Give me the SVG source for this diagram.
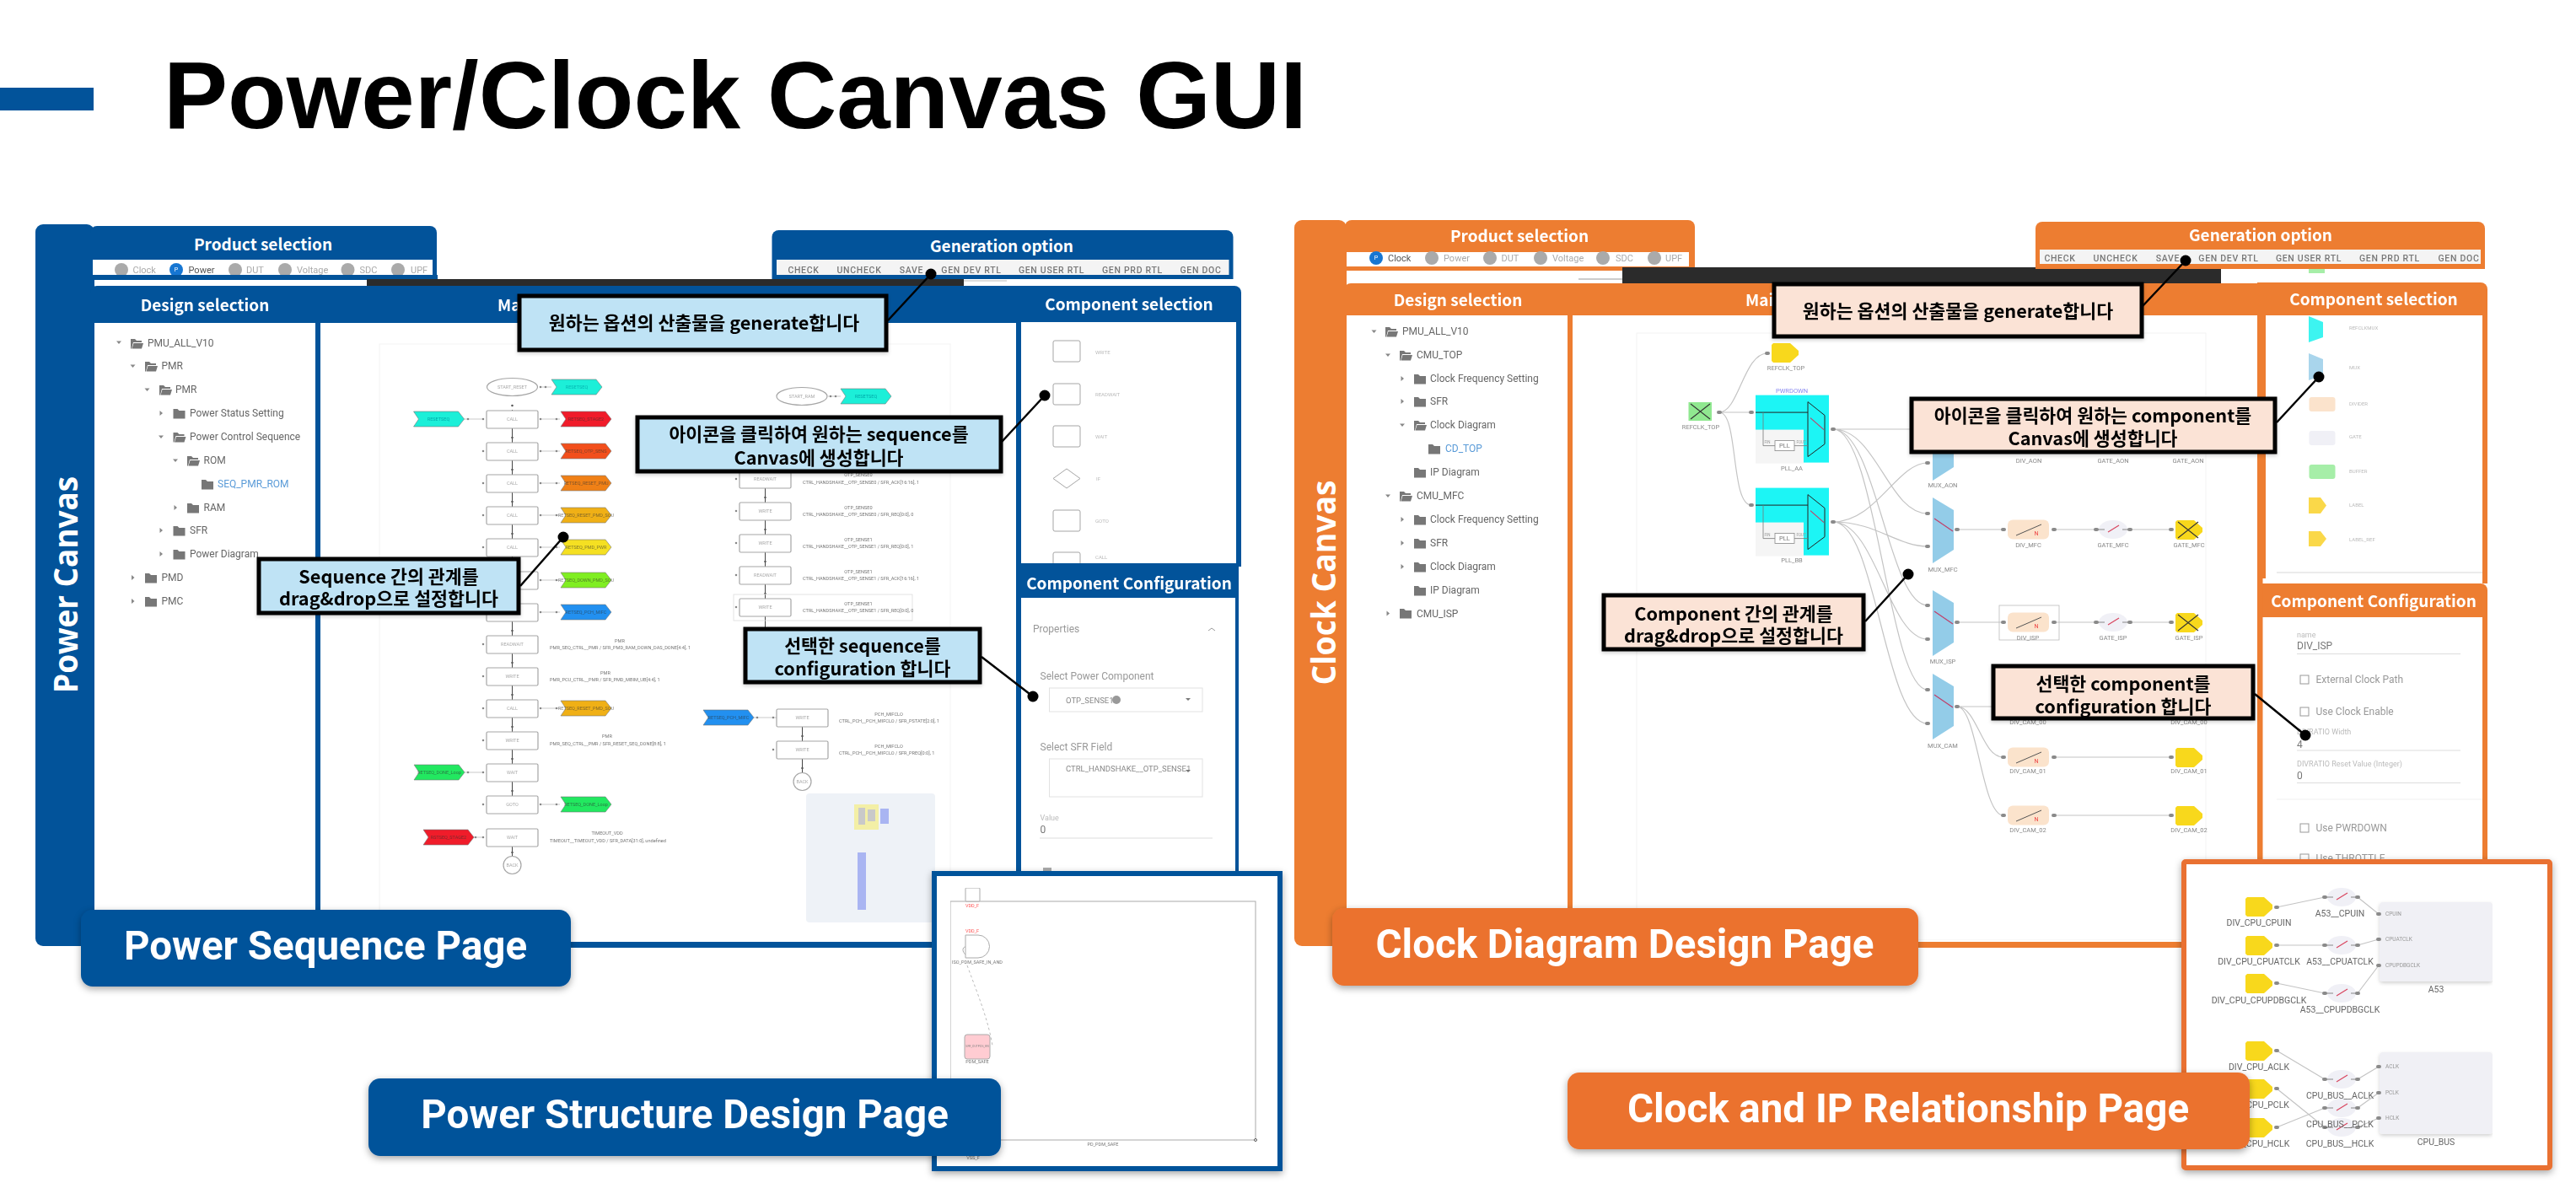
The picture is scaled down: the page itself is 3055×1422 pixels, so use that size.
<svg xmlns="http://www.w3.org/2000/svg" xmlns:xlink="http://www.w3.org/1999/xlink" width="3055" height="1422" viewBox="0 0 3055 1422">
<style>
text{font-family:"Roboto","Noto Sans CJK KR",sans-serif;dominant-baseline:central}
.m{text-anchor:middle}
.title{font-family:"Liberation Sans",Arial,sans-serif;font-weight:700;font-size:114px;fill:#000;dominant-baseline:auto}
.hd{font-family:"Noto Sans CJK KR","Noto Sans",sans-serif;font-weight:700;font-size:19px;fill:#fff;text-anchor:middle}
.hdl{font-family:"Noto Sans CJK KR","Noto Sans",sans-serif;font-weight:700;font-size:19px;fill:#fff}
.page{font-family:"Roboto",sans-serif;font-weight:700;font-size:47.500px;fill:#fff;text-anchor:middle;dominant-baseline:auto}
.vert{font-family:"Open Sans",sans-serif;font-weight:700;font-size:40px;fill:#fff;text-anchor:middle;dominant-baseline:auto}
.co{font-family:"Noto Sans CJK KR",sans-serif;font-weight:700;font-size:21.700px;fill:#000;text-anchor:middle}
.cb{fill:#BFE3F5;stroke:#000;stroke-width:5}
.cp{fill:#FBE3D6;stroke:#000;stroke-width:5}
.ld{stroke:#000;stroke-width:2.5;fill:none}
.tb{font-size:10.5px;font-weight:500;fill:#777;letter-spacing:.7px;text-anchor:middle}
.tab{font-size:11px;fill:#aaa}
.tabon{font-size:11px;fill:#555}
.tl{font-size:12px;fill:#666}
.tla{font-size:12px;fill:#5a9bd8}
.sm{font-size:5.5px;fill:#aaa;text-anchor:middle}
.ft{font-size:5.5px;fill:#333;fill-opacity:.6;text-anchor:middle}
.ln{font-size:5.6px;fill:#777}
.lnm{font-size:5.6px;fill:#777;text-anchor:middle}
.ic{font-size:6px;fill:#bbb}
.cfg{font-size:12px;fill:#999}
.cfs{font-size:9px;fill:#bbb}
.bx{fill:#fff;stroke:#a5a5a5;stroke-width:1.2}
.fl{stroke:#777;stroke-width:.6}
.v{stroke:#444;stroke-width:1;fill:none}
.h{stroke:#bbb;stroke-width:.8;fill:none}
.pd{stroke:#555;stroke-width:2.6;stroke-linecap:round;fill:none}
.pd2{stroke:#888;stroke-width:2.6;stroke-linecap:round;fill:none}
.wire{stroke:#c4c4c4;stroke-width:1.2;fill:none}
.pt{stroke:#8a8a8a;stroke-width:4;stroke-linecap:round;fill:none}
.cl{font-size:7.5px;fill:#888;text-anchor:middle}
.ipl{font-size:10.5px;fill:#666;text-anchor:middle}
.ips{font-size:6.5px;fill:#999}
.fa{fill:#777}
.ar{fill:#888}
</style>
<defs>
<filter id="sh" x="-10%" y="-20%" width="120%" height="150%"><feDropShadow dx="0" dy="3" stdDeviation="4" flood-color="#000" flood-opacity=".35"/></filter>
<filter id="sh2" x="-10%" y="-30%" width="120%" height="170%"><feDropShadow dx="0" dy="2" stdDeviation="2" flood-color="#000" flood-opacity=".18"/></filter>
<filter id="bl" x="0" y="0" width="100%" height="100%"><feGaussianBlur stdDeviation=".45"/></filter>
<path id="fc" d="M0 0h5l2 2h7v9.500H0z"/>
<path id="fo" d="M0 0h5l2 2h6v2H3L1 11.500H0zM3.500 5H15l-2 6.500H1.500z"/>
<path id="ad" d="M-3-1.500H3L0 2z"/>
<path id="ar" d="M-1.500-3L2 0-1.500 3z"/>
<path id="fl" class="fl" d="M0 0H53L60 9 53 18H0L6 9Z"/>
<rect id="sb" class="bx" width="61" height="21" rx="1.500"/>
<rect id="ib" x="0" y="0" width="32" height="25" rx="2" fill="#fff" stroke="#a5a5a5" stroke-width="1"/>
<path id="lb" d="M2 0H22L32 9V14L22 23H2L0 21V2Z" fill="#F8D81E"/>
<path id="xx" d="M3 2L27 21M27 2L3 21" stroke="#333" stroke-width="1.100" fill="none"/>
<g id="dv"><rect x="0" y="-11.500" width="49" height="23" rx="6" fill="#FBE3CC"/><path d="M10 7L40-6" stroke="#555" stroke-width="1"/><text x="34" y="5" font-size="7" fill="#E44" class="m">N</text></g>
<g id="gt"><ellipse cx="20" cy="0" rx="17" ry="11" fill="#F0F0F6"/><path d="M0 0H10M31 0H40" stroke="#888" stroke-width="1"/><path d="M14 3L27-5" stroke="#D9455F" stroke-width="1.300"/></g>
<g id="mx"><path d="M0 0L25 15V62L0 78Z" fill="#93CCE8"/><path d="M2 25L24 40" stroke="#C0406A" stroke-width="1.300"/></g>
<g id="pll"><rect x="0" y="0" width="87" height="80" fill="#1FF5F5"/><rect x="0" y="41" width="57" height="40" fill="#F5F5F5"/><path d="M62 8L82 24V58L62 73Z" fill="none" stroke="#222" stroke-width="1"/><path d="M65 27L81 41" stroke="#C0406A" stroke-width="1.200"/><path d="M0 20.500H62" stroke="#222" stroke-width="1"/><path d="M9 20.500V60H23M46 60H62" stroke="#777" stroke-width=".8" fill="none"/><rect x="23" y="54" width="23" height="12" fill="#fff" stroke="#888" stroke-width=".8"/><text x="34.500" y="60" font-size="7.500" fill="#777" class="m">PLL</text><text x="14" y="56" font-size="4.500" fill="#999" class="m">FIN</text><text x="54" y="56" font-size="4.500" fill="#999" class="m">FOUT</text></g>
</defs>
<rect width="3055" height="1422" fill="#fff"/>
<g id="title"><rect x="0" y="104" width="111" height="27" fill="#02539A"/><text x="194" y="152" class="title">Power/Clock Canvas GUI</text></g>

<g id="power-shots" filter="url(#bl)">
<rect x="450" y="408" width="677" height="710" fill="#fff" stroke="#f3f3f3"/>
<g id="power-tree">
<use xlink:href="#ad" x="141" y="406" class="ar"/><use xlink:href="#fo" x="155" y="402" class="fa"/><text x="175" y="407" class="tl">PMU_ALL_V10</text>
<use xlink:href="#ad" x="157.500" y="434" class="ar"/><use xlink:href="#fo" x="172" y="429" class="fa"/><text x="191.500" y="434" class="tl">PMR</text>
<use xlink:href="#ad" x="174.500" y="462" class="ar"/><use xlink:href="#fo" x="189" y="457" class="fa"/><text x="208" y="462" class="tl">PMR</text>
<use xlink:href="#ar" x="191" y="490" class="ar"/><use xlink:href="#fc" x="205.500" y="485" class="fa"/><text x="225" y="490" class="tl">Power Status Setting</text>
<use xlink:href="#ad" x="191" y="518" class="ar"/><use xlink:href="#fo" x="205.500" y="513" class="fa"/><text x="225" y="518" class="tl">Power Control Sequence</text>
<use xlink:href="#ad" x="208" y="546" class="ar"/><use xlink:href="#fo" x="222" y="541" class="fa"/><text x="241.500" y="546" class="tl">ROM</text>
<use xlink:href="#fc" x="239" y="569" class="fa"/><text x="258" y="574" class="tla">SEQ_PMR_ROM</text>
<use xlink:href="#ar" x="208" y="602" class="ar"/><use xlink:href="#fc" x="222" y="597" class="fa"/><text x="241.500" y="602" class="tl">RAM</text>
<use xlink:href="#ar" x="191" y="629" class="ar"/><use xlink:href="#fc" x="205.500" y="624" class="fa"/><text x="225" y="629" class="tl">SFR</text>
<use xlink:href="#ar" x="191" y="657" class="ar"/><use xlink:href="#fc" x="205.500" y="652" class="fa"/><text x="225" y="657" class="tl">Power Diagram</text>
<use xlink:href="#ar" x="157.500" y="685" class="ar"/><use xlink:href="#fc" x="172" y="680" class="fa"/><text x="191.500" y="685" class="tl">PMD</text>
<use xlink:href="#ar" x="157.500" y="713" class="ar"/><use xlink:href="#fc" x="172" y="708" class="fa"/><text x="191.500" y="713" class="tl">PMC</text>
</g>
<g id="power-connectors">
<path class="v" d="M607.500 486V955M607.500 993V1016M907.500 558V744M951.500 851V917"/>
<path class="h" d="M641 459H654M550 497H573M641 497H664M641 535H664M641 573H664M641 611H664M641 649H664M641 688H664M641 726H664M641 840H664M641 954H664M551 916H573M561 993H573M982 470H997M894 851H921"/>
<path class="pd" d="M607.500 481h0M607.500 519h0M607.500 557h0M607.500 595h0M607.500 633h0M607.500 671h0M607.500 710h0M607.500 748h0M607.500 786h0M607.500 824h0M607.500 862h0M607.500 900h0M607.500 938h0M607.500 1011h0M907.500 590h0M907.500 628h0M907.500 666h0M907.500 704h0M951.500 873h0M951.500 911h0"/>
<path class="pd2" d="M641 459h0M647 459h0M555 497h0M573 497h0M641 497h0M660 497h0M573 535h0M641 535h0M660 535h0M573 573h0M641 573h0M660 573h0M573 611h0M641 611h0M660 611h0M573 649h0M641 649h0M660 649h0M573 688h0M641 688h0M660 688h0M573 726h0M641 726h0M660 726h0M573 764h0M573 802h0M573 840h0M641 840h0M660 840h0M573 878h0M555 916h0M573 916h0M573 954h0M641 954h0M660 954h0M564 993h0M573 993h0M873 568h0M873 606h0M873 644h0M873 682h0M873 720h0M898 851h0M917 851h0M917 889h0M985 470h0M991 470h0"/>
</g>
<g id="seq-col1">
<ellipse cx="607.500" cy="459" rx="30" ry="10.500" class="bx"/><text x="607.500" y="459" class="sm">START_RESET</text>
<use xlink:href="#fl" x="654" y="450" fill="#1CEFD8"/><text x="684" y="459" class="sm" fill-opacity=".8" style="fill:#0aa">RESETSEQ</text>
<use xlink:href="#sb" x="577" y="487"/><text x="607.500" y="497" class="sm">CALL</text>
<use xlink:href="#sb" x="577" y="525"/><text x="607.500" y="535" class="sm">CALL</text>
<use xlink:href="#sb" x="577" y="563"/><text x="607.500" y="573" class="sm">CALL</text>
<use xlink:href="#sb" x="577" y="601"/><text x="607.500" y="611" class="sm">CALL</text>
<use xlink:href="#sb" x="577" y="639"/><text x="607.500" y="649" class="sm">CALL</text>
<use xlink:href="#sb" x="577" y="678"/><text x="607.500" y="688" class="sm">CALL</text>
<use xlink:href="#sb" x="577" y="716"/><text x="607.500" y="726" class="sm">CALL</text>
<use xlink:href="#sb" x="577" y="754"/><text x="607.500" y="764" class="sm">READWAIT</text>
<use xlink:href="#sb" x="577" y="792"/><text x="607.500" y="802" class="sm">WRITE</text>
<use xlink:href="#sb" x="577" y="830"/><text x="607.500" y="840" class="sm">CALL</text>
<use xlink:href="#sb" x="577" y="868"/><text x="607.500" y="878" class="sm">WRITE</text>
<use xlink:href="#sb" x="577" y="906"/><text x="607.500" y="916" class="sm">WAIT</text>
<use xlink:href="#sb" x="577" y="944"/><text x="607.500" y="954" class="sm">GOTO</text>
<use xlink:href="#sb" x="577" y="983"/><text x="607.500" y="993" class="sm">WAIT</text>
<circle cx="607.500" cy="1026" r="10.500" class="bx"/><text x="607.500" y="1026" class="sm">BACK</text>
<use xlink:href="#fl" x="490.500" y="488" fill="#1CEFD8"/><text x="520" y="497" class="sm" style="fill:#0aa">RESETSEQ</text>
<use xlink:href="#fl" x="665" y="488" fill="#F01C2A"/><text x="695" y="497" class="ft">RETSEQ_STAGE2</text>
<use xlink:href="#fl" x="665" y="526" fill="#F2501C"/><text x="695" y="535" class="ft">RETSEQ_OTP_SENS</text>
<use xlink:href="#fl" x="665" y="564" fill="#F08018"/><text x="695" y="573" class="ft">RETSEQ_RESET_PMU</text>
<use xlink:href="#fl" x="665" y="602" fill="#F0B018"/><text x="695" y="611" class="ft">RETSEQ_RESET_PMD_SOU</text>
<use xlink:href="#fl" x="665" y="640" fill="#F5E020"/><text x="695" y="649" class="ft">RETSEQ_PMD_PWR</text>
<use xlink:href="#fl" x="665" y="679" fill="#80EE20"/><text x="695" y="688" class="ft">RETSEQ_DOWN_PMD_SOU</text>
<use xlink:href="#fl" x="665" y="717" fill="#2090F0"/><text x="695" y="726" class="ft">RETSEQ_PCH_MIFC</text>
<use xlink:href="#fl" x="665" y="831" fill="#F0B018"/><text x="695" y="840" class="ft">RETSEQ_RESET_PMD_SOU</text>
<use xlink:href="#fl" x="491" y="907" fill="#20E860"/><text x="521" y="916" class="ft">RETSEQ_DONE_Loop</text>
<use xlink:href="#fl" x="665" y="945" fill="#20E860"/><text x="695" y="954" class="ft">RETSEQ_DONE_Loop</text>
<use xlink:href="#fl" x="502" y="984" fill="#F01C2A"/><text x="532" y="993" class="ft">RSTSEQ_STAGE2</text>
<text x="735" y="760" class="lnm">PMR</text><text x="652" y="767.500" class="ln">PMR_SEQ_CTRL__PMR / SFR_PMD_RAM_DOWN_DAS_DONE[4:4], 1</text>
<text x="718" y="798" class="lnm">PMR</text><text x="652" y="806" class="ln">PMR_PCU_CTRL__PMR / SFR_PMD_MBIM_UB[4:4], 1</text>
<text x="720" y="873" class="lnm">PMR</text><text x="652" y="882" class="ln">PMR_SEQ_CTRL__PMR / SFR_RESET_SEQ_DONE[8:8], 1</text>
<text x="720" y="988" class="lnm">TIMEOUT_VDD</text><text x="652" y="997" class="ln">TIMEOUT__TIMEOUT_VDD / SFR_DATA[31:0], undefined</text>
</g>
<g id="seq-col2">
<ellipse cx="951" cy="470" rx="30" ry="10.500" class="bx"/><text x="951" y="470" class="sm">START_RAM</text>
<use xlink:href="#fl" x="997" y="461" fill="#1CEFD8"/><text x="1027" y="470" class="sm" style="fill:#0aa">RESETSEQ</text>
<use xlink:href="#sb" x="877" y="558"/><text x="907.500" y="568" class="sm">READWAIT</text>
<use xlink:href="#sb" x="877" y="596"/><text x="907.500" y="606" class="sm">WRITE</text>
<use xlink:href="#sb" x="877" y="634"/><text x="907.500" y="644" class="sm">WRITE</text>
<use xlink:href="#sb" x="877" y="672"/><text x="907.500" y="682" class="sm">READWAIT</text>
<rect x="870" y="705" width="212" height="31" fill="none" stroke="#ddd" stroke-width=".8"/>
<use xlink:href="#sb" x="877" y="710"/><text x="907.500" y="720" class="sm">WRITE</text>
<text x="1018" y="563" class="lnm">OTP_SENSE0</text><text x="952" y="572" class="ln">CTRL_HANDSHAKE__OTP_SENSE0 / SFR_ACK[16:16], 1</text>
<text x="1018" y="602" class="lnm">OTP_SENSE0</text><text x="952" y="610" class="ln">CTRL_HANDSHAKE__OTP_SENSE0 / SFR_REQ[0:0], 0</text>
<text x="1018" y="640" class="lnm">OTP_SENSE1</text><text x="952" y="648" class="ln">CTRL_HANDSHAKE__OTP_SENSE1 / SFR_REQ[0:0], 1</text>
<text x="1018" y="678" class="lnm">OTP_SENSE1</text><text x="952" y="686" class="ln">CTRL_HANDSHAKE__OTP_SENSE1 / SFR_ACK[16:16], 1</text>
<text x="1018" y="716" class="lnm">OTP_SENSE1</text><text x="952" y="724" class="ln">CTRL_HANDSHAKE__OTP_SENSE1 / SFR_REQ[0:0], 0</text>
<use xlink:href="#fl" x="834" y="842" fill="#2090F0"/><text x="864" y="851" class="ft">RETSEQ_PCH_MIFC</text>
<use xlink:href="#sb" x="921" y="841"/><text x="951.500" y="851" class="sm">WRITE</text>
<use xlink:href="#sb" x="921" y="879"/><text x="951.500" y="889" class="sm">WRITE</text>
<circle cx="951.500" cy="927" r="10.500" class="bx"/><text x="951.500" y="927" class="sm">BACK</text>
<text x="1054" y="847" class="lnm">PCH_MIFCLO</text><text x="995" y="855" class="ln">CTRL_PCH__PCH_MIFCLO / SFR_PSTATE[2:0], 1</text>
<text x="1054" y="885" class="lnm">PCH_MIFCLO</text><text x="995" y="893" class="ln">CTRL_PCH__PCH_MIFCLO / SFR_PREQ[0:0], 1</text>
</g>
<g id="power-minimap">
<rect x="956" y="941" width="153" height="153" rx="4" fill="#EEF2F7"/>
<rect x="1013" y="954" width="29" height="30" fill="#F3EFA6"/><rect x="1018" y="958" width="8" height="20" fill="#C9C9C9"/><rect x="1029" y="960" width="9" height="14" fill="#C9C9C9"/>
<rect x="1044" y="959" width="10" height="18" fill="#A9B5F2"/><rect x="1017" y="1011" width="10" height="68" fill="#A9B5F2"/>
</g>
<g id="power-selection">
<use xlink:href="#ib" x="1249" y="404"/><text x="1299" y="417" class="ic">WRITE</text>
<use xlink:href="#ib" x="1249" y="455"/><text x="1299" y="467" class="ic">READWAIT</text>
<use xlink:href="#ib" x="1249" y="505"/><text x="1299" y="517" class="ic">WAIT</text>
<path d="M1249 567.500L1265 556 1281 567.500 1265 579Z" fill="#fff" stroke="#a5a5a5"/><text x="1300" y="567" class="ic">IF</text>
<use xlink:href="#ib" x="1249" y="605"/><text x="1299" y="617" class="ic">GOTO</text>
<use xlink:href="#ib" x="1249" y="655"/><text x="1299" y="660" class="ic">CALL</text>
</g>
</g>

<g id="power-frames">
<rect x="42" y="266" width="70" height="856" rx="9" fill="#02539A"/>
<text transform="translate(92,693.500) rotate(-90)" class="vert" textLength="257" lengthAdjust="spacingAndGlyphs">Power Canvas</text>
<g id="power-product">
<path d="M107 332V276a8 8 0 0 1 8-8H510a8 8 0 0 1 8 8V332Z" fill="#02539A"/><rect x="110" y="308" width="403" height="18" fill="#fff"/>
<text x="312" y="288" class="hd">Product selection</text>
<g filter="url(#bl)">
<circle cx="144" cy="320" r="8" fill="#aaa"/><text x="157.500" y="320" class="tab">Clock</text>
<circle cx="209" cy="320" r="8" fill="#1976D2"/><text x="209" y="320" class="m" font-size="7" fill="#fff">P</text><text x="223.500" y="320" class="tabon">Power</text>
<circle cx="279" cy="320" r="8" fill="#aaa"/><text x="292" y="320" class="tab">DUT</text>
<circle cx="338" cy="320" r="8" fill="#aaa"/><text x="352" y="320" class="tab">Voltage</text>
<circle cx="412.500" cy="320" r="8" fill="#aaa"/><text x="426.500" y="320" class="tab">SDC</text>
<circle cx="472" cy="320" r="8" fill="#aaa"/><text x="487" y="320" class="tab">UPF</text>
</g>
<rect x="107" y="326" width="412" height="6" fill="#02539A"/>
</g>
<rect x="435" y="331" width="708" height="8" fill="#2b2b2b"/><rect x="1143" y="332" width="51" height="2" fill="#ddd"/>
<g id="power-generation">
<path d="M915.500 331V281a8 8 0 0 1 8-8H1454.500a8 8 0 0 1 8 8V331Z" fill="#02539A"/><rect x="921" y="308" width="536.500" height="18" fill="#f4f4f4"/>
<text x="1188" y="290" class="hd">Generation option</text>
<g filter="url(#bl)"><text x="953" y="320" class="tb">CHECK</text><text x="1019" y="320" class="tb">UNCHECK</text><text x="1081" y="320" class="tb">SAVE</text><text x="1152" y="320" class="tb">GEN DEV RTL</text><text x="1247" y="320" class="tb">GEN USER RTL</text><text x="1343" y="320" class="tb">GEN PRD RTL</text><text x="1424" y="320" class="tb">GEN DOC</text></g>
</g>
<g id="power-design"><path d="M107 383V347a8 8 0 0 1 8-8H1205V383Z" fill="#02539A"/><rect x="374" y="383" width="6" height="700" fill="#02539A"/><text x="243" y="360" class="hd">Design selection</text><text x="590" y="360" class="hdl">Ma</text></g>
<rect x="377" y="1117" width="834" height="7" fill="#02539A"/>
<g id="power-component">
<path d="M1205 382V339H1464a8 8 0 0 1 8 8V382Z" fill="#02539A"/>
<rect x="1205" y="382" width="6" height="720" fill="#02539A"/><rect x="1466" y="382" width="6" height="290" fill="#02539A"/>
<text x="1339" y="359" class="hd">Component selection</text>
<path d="M1205 668H1469V1040H1465V709H1211V1040H1205Z" fill="#02539A"/>
<text x="1339" y="690" class="hd">Component Configuration</text>
</g>
</g>

<g id="power-config" filter="url(#bl)">
<text x="1225" y="746" class="cfg">Properties</text><path d="M1433 748l4-3 4 3" stroke="#999" fill="none"/>
<text x="1233.500" y="802" class="cfg">Select Power Component</text>
<rect x="1244.500" y="816" width="181.500" height="28" fill="#fff" stroke="#e2e2e2"/><text x="1264" y="830" font-size="9.500" fill="#888">OTP_SENSE1</text><circle cx="1324" cy="830" r="5" fill="#999"/><path d="M1406 828h6l-3 3z" fill="#777"/>
<text x="1233.500" y="885.500" class="cfg">Select SFR Field</text>
<rect x="1244.500" y="900" width="181.500" height="45" fill="#fff" stroke="#e2e2e2"/><text x="1264" y="911" font-size="9.500" fill="#888">CTRL_HANDSHAKE__OTP_SENSE1</text><path d="M1406 913h6l-3 3z" fill="#777"/>
<text x="1233.500" y="970" class="cfs">Value</text><text x="1233.500" y="984" font-size="12" fill="#777">0</text><path d="M1233 994H1438" stroke="#ddd"/>
<rect x="1237" y="1029" width="10" height="4" fill="#aaa"/>
</g>

<g id="power-structure">
<rect x="1108" y="1036" width="410" height="350" fill="#fff" stroke="#02539A" stroke-width="6" filter="url(#sh)"/>
<g filter="url(#bl)">
<rect x="1127" y="1069" width="362" height="283" fill="none" stroke="#aaa"/>
<rect x="1145" y="1053" width="17" height="16" rx="1" fill="#fff" stroke="#aaa"/>
<text x="1153" y="1074" font-size="5.500" fill="#F55" class="m">VDD_F</text><text x="1153" y="1104" font-size="5.500" fill="#F55" class="m">VDD_F</text>
<path d="M1145 1109H1160A13.500 13.500 0 0 1 1160 1136H1145Z" fill="#fff" stroke="#aaa"/><path d="M1145 1123c-4 0-4 6 0 9" stroke="#aaa" fill="none"/>
<text x="1159" y="1141" font-size="5.500" fill="#777" class="m">ISO_PDM_SAFE_IN_AND</text>
<path d="M1147 1145C1160 1180 1172 1210 1177 1240" stroke="#bbb" stroke-dasharray="3 3" fill="none"/>
<rect x="1144" y="1227" width="30" height="29" rx="3" fill="#FFCCD2" stroke="#aaa"/><text x="1159" y="1241" font-size="3.500" fill="#888" class="m">SFR_OUTPOS_EN</text>
<text x="1159" y="1259" font-size="5.500" fill="#777" class="m">PDM_SAFE</text>
<text x="1308" y="1357" font-size="5.500" fill="#777" class="m">PD_PDM_SAFE</text>
<text x="1154" y="1373" font-size="5.500" fill="#777" class="m">VSS_F</text>
<circle cx="1489" cy="1352" r="1.500" fill="#fff" stroke="#555"/>
</g>
</g>

<g id="callouts-power">
<path class="ld" d="M1053 380L1104 325M1188 524L1239 469M617 695L668 637M1164 779L1225 826"/>
<g fill="#000"><circle cx="1104" cy="325" r="6.500"/><circle cx="1239" cy="469" r="6.500"/><circle cx="668" cy="637" r="6.500"/><circle cx="1225" cy="826" r="6.500"/></g>
<g id="co-p1"><rect x="616" y="351" width="435" height="64" class="cb" filter="url(#sh2)"/><text x="835" y="381" class="co">원하는 옵션의 산출물을 generate합니다</text></g>
<g id="co-p2"><rect x="756" y="495" width="431" height="64" class="cb" filter="url(#sh2)"/><text x="971" y="513" class="co">아이콘을 클릭하여 원하는 sequence를</text><text x="971" y="541" class="co">Canvas에 생성합니다</text></g>
<g id="co-p3"><rect x="307" y="663" width="308" height="64" class="cb" filter="url(#sh2)"/><text x="461" y="682" class="co">Sequence 간의 관계를</text><text x="461" y="708" class="co">drag&amp;drop으로 설정합니다</text></g>
<g id="co-p4"><rect x="884" y="746" width="278" height="63" class="cb" filter="url(#sh2)"/><text x="1023" y="764" class="co">선택한 sequence를</text><text x="1023" y="791" class="co">configuration 합니다</text></g>
</g>

<g id="clock-shots" filter="url(#bl)">
<rect x="1941" y="395" width="675" height="720" fill="#fff" stroke="#f3f3f3"/>
<g id="clock-tree">
<use xlink:href="#ad" x="1629.500" y="393" class="ar"/><use xlink:href="#fo" x="1643" y="388" class="fa"/><text x="1663" y="393" class="tl">PMU_ALL_V10</text>
<use xlink:href="#ad" x="1646" y="421" class="ar"/><use xlink:href="#fo" x="1660" y="416" class="fa"/><text x="1680" y="421" class="tl">CMU_TOP</text>
<use xlink:href="#ar" x="1663" y="449" class="ar"/><use xlink:href="#fc" x="1677" y="444" class="fa"/><text x="1696" y="449" class="tl">Clock Frequency Setting</text>
<use xlink:href="#ar" x="1663" y="476" class="ar"/><use xlink:href="#fc" x="1677" y="471" class="fa"/><text x="1696" y="476" class="tl">SFR</text>
<use xlink:href="#ad" x="1663" y="504" class="ar"/><use xlink:href="#fo" x="1677" y="499" class="fa"/><text x="1696" y="504" class="tl">Clock Diagram</text>
<use xlink:href="#fc" x="1694" y="527" class="fa"/><text x="1714" y="532" class="tla">CD_TOP</text>
<use xlink:href="#fc" x="1677" y="555" class="fa"/><text x="1696" y="560" class="tl">IP Diagram</text>
<use xlink:href="#ad" x="1646" y="588" class="ar"/><use xlink:href="#fo" x="1660" y="583" class="fa"/><text x="1680" y="588" class="tl">CMU_MFC</text>
<use xlink:href="#ar" x="1663" y="616" class="ar"/><use xlink:href="#fc" x="1677" y="611" class="fa"/><text x="1696" y="616" class="tl">Clock Frequency Setting</text>
<use xlink:href="#ar" x="1663" y="644" class="ar"/><use xlink:href="#fc" x="1677" y="639" class="fa"/><text x="1696" y="644" class="tl">SFR</text>
<use xlink:href="#ar" x="1663" y="672" class="ar"/><use xlink:href="#fc" x="1677" y="667" class="fa"/><text x="1696" y="672" class="tl">Clock Diagram</text>
<use xlink:href="#fc" x="1677" y="695" class="fa"/><text x="1696" y="700" class="tl">IP Diagram</text>
<use xlink:href="#ar" x="1646" y="727.500" class="ar"/><use xlink:href="#fc" x="1660" y="722" class="fa"/><text x="1680" y="727.500" class="tl">CMU_ISP</text>
</g>
<g id="clock-wires">
<path class="wire" d="M2039 489C2062 489 2068 419 2096 419M2039 489H2077M2039 489C2062 489 2052 599 2077 599M2174 509H2265M2174 509C2225 509 2240 609 2286 609M2174 509C2225 509 2240 718 2286 718M2174 509C2225 509 2240 818 2286 818M2174 619C2225 619 2250 549 2286 549M2174 619C2225 619 2250 648 2286 648M2174 619C2225 619 2240 758 2286 758M2174 619C2225 619 2235 858 2286 858M2321 628H2376M2436 628H2486M2526 628H2575M2321 738H2376M2436 738H2486M2526 738H2575M2321 838H2362M2321 838C2345 838 2350 898 2376 898M2321 838C2345 838 2350 967 2376 967M2436 898H2575M2436 967H2575"/>
</g>
<g id="clock-nodes">
<use xlink:href="#lb" x="2101" y="407"/><text x="2118" y="436" class="cl">REFCLK_TOP</text>
<rect x="2002.500" y="477" width="27.500" height="22" fill="#90E890"/><path d="M2005 479L2028 497M2028 479L2005 497" stroke="#333" stroke-width="1.100"/><text x="2017" y="506" class="cl">REFCLK_TOP</text>
<text x="2125" y="463" class="cl" style="fill:#8888F0">PWRDOWN</text>
<use xlink:href="#pll" x="2082" y="468.600"/><text x="2125" y="555" class="cl">PLL_AA</text>
<use xlink:href="#pll" x="2082" y="578.600"/><text x="2125" y="664" class="cl">PLL_BB</text>
<use xlink:href="#mx" x="2292" y="492"/><text x="2304" y="575" class="cl">MUX_AON</text>
<use xlink:href="#mx" x="2292" y="590"/><text x="2304" y="675" class="cl">MUX_MFC</text>
<use xlink:href="#mx" x="2292" y="700"/><text x="2304" y="784" class="cl">MUX_ISP</text>
<use xlink:href="#mx" x="2292" y="799"/><text x="2304" y="884" class="cl">MUX_CAM</text>
<text x="2406" y="546" class="cl">DIV_AON</text><text x="2506" y="546" class="cl">GATE_AON</text><text x="2595" y="546" class="cl">GATE_AON</text>
<use xlink:href="#dv" x="2381" y="628"/><text x="2405.500" y="646" class="cl">DIV_MFC</text>
<use xlink:href="#gt" x="2486" y="628"/><text x="2506" y="646" class="cl">GATE_MFC</text>
<use xlink:href="#lb" x="2580" y="617"/><use xlink:href="#xx" x="2580" y="617"/><text x="2596" y="646" class="cl">GATE_MFC</text>
<rect x="2371" y="718" width="71" height="41" fill="none" stroke="#bbb" stroke-width=".8"/>
<use xlink:href="#dv" x="2381" y="738"/><text x="2405" y="756" class="cl">DIV_ISP</text>
<use xlink:href="#gt" x="2486" y="738"/><text x="2506" y="756" class="cl">GATE_ISP</text>
<use xlink:href="#lb" x="2580" y="727"/><use xlink:href="#xx" x="2580" y="727"/><text x="2596" y="756" class="cl">GATE_ISP</text>
<text x="2405" y="856" class="cl">DIV_CAM_00</text><text x="2596" y="856" class="cl">DIV_CAM_00</text>
<use xlink:href="#dv" x="2381" y="898"/><text x="2405" y="914" class="cl">DIV_CAM_01</text><use xlink:href="#lb" x="2580" y="887"/><text x="2596" y="914" class="cl">DIV_CAM_01</text>
<use xlink:href="#dv" x="2381" y="967"/><text x="2405" y="984" class="cl">DIV_CAM_02</text><use xlink:href="#lb" x="2580" y="956"/><text x="2596" y="984" class="cl">DIV_CAM_02</text>
<path class="pt" d="M2095 419h2M2038 489h2M2076 489h2M2076 599h2M2173 509h2M2173 619h2M2285 549h2M2285 609h2M2285 648h2M2285 718h2M2285 758h2M2285 818h2M2285 858h2M2320 628h2M2320 738h2M2320 838h2M2375 628h2M2435 628h2M2485 628h2M2525 628h2M2574 628h2M2375 738h2M2435 738h2M2485 738h2M2525 738h2M2574 738h2M2375 898h2M2435 898h2M2574 898h2M2375 967h2M2435 967h2M2574 967h2"/>
</g>
<g id="clock-selection">
<rect x="2738" y="319" width="19" height="5" fill="#A6EEA8"/>
<path d="M2738 375L2755 382V400L2738 406Z" fill="#3CF4F0"/><text x="2786" y="388" class="ic">REFCLKMUX</text>
<path d="M2738 419L2755 426V445L2738 451Z" fill="#A9D5EC"/><text x="2786" y="435" class="ic">MUX</text>
<rect x="2738.500" y="471" width="31" height="17" rx="3" fill="#FBE3CC"/><text x="2786" y="478" class="ic">DIVIDER</text>
<rect x="2738.500" y="511" width="31" height="17" rx="3" fill="#F0F0F6"/><text x="2786" y="517.500" class="ic">GATE</text>
<rect x="2738.500" y="551" width="31" height="17" rx="3" fill="#A6EEA8"/><text x="2786" y="558" class="ic">BUFFER</text>
<path d="M2738 590H2752L2759 599.500 2752 609H2738Z" fill="#FAD84A"/><text x="2786" y="598" class="ic">LABEL</text>
<path d="M2738 630H2752L2759 639 2752 648H2738Z" fill="#FAD84A"/><text x="2786" y="639" class="ic">LABEL_REF</text>
<path d="M2700 679H2944" stroke="#e4e4e4" stroke-width="1.500"/>
</g>
</g>

<g id="clock-frames">
<rect x="1535" y="261" width="62" height="861" rx="9" fill="#ED7D31"/>
<text transform="translate(1584,691) rotate(-90)" class="vert" textLength="243" lengthAdjust="spacingAndGlyphs">Clock Canvas</text>
<g id="clock-product">
<path d="M1595 321V269a8 8 0 0 1 8-8H2002a8 8 0 0 1 8 8V321Z" fill="#ED7D31"/><rect x="1597" y="299" width="406" height="17" fill="#fff"/>
<text x="1802" y="278" class="hd">Product selection</text>
<g filter="url(#bl)">
<circle cx="1632" cy="306" r="8" fill="#1976D2"/><text x="1632" y="306" class="m" font-size="7" fill="#fff">P</text><text x="1646" y="306" class="tabon">Clock</text>
<circle cx="1698" cy="306" r="8" fill="#aaa"/><text x="1712" y="306" class="tab">Power</text>
<circle cx="1767" cy="306" r="8" fill="#aaa"/><text x="1780.500" y="306" class="tab">DUT</text>
<circle cx="1827" cy="306" r="8" fill="#aaa"/><text x="1841" y="306" class="tab">Voltage</text>
<circle cx="1901" cy="306" r="8" fill="#aaa"/><text x="1916" y="306" class="tab">SDC</text>
<circle cx="1962" cy="306" r="8" fill="#aaa"/><text x="1975" y="306" class="tab">UPF</text>
</g>
<rect x="1595" y="316" width="415" height="5" fill="#ED7D31"/>
</g>
<rect x="1924" y="317" width="710" height="19" fill="#2b2b2b"/><rect x="1872" y="330" width="52" height="2" fill="#ccc"/>
<g id="clock-generation">
<path d="M2414 319V271a8 8 0 0 1 8-8H2939a8 8 0 0 1 8 8V319Z" fill="#ED7D31"/><rect x="2419" y="296" width="523" height="17" fill="#f4f4f4"/>
<text x="2681" y="277" class="hd">Generation option</text>
<g filter="url(#bl)"><text x="2443" y="306" class="tb">CHECK</text><text x="2509" y="306" class="tb">UNCHECK</text><text x="2571" y="306" class="tb">SAVE</text><text x="2643" y="306" class="tb">GEN DEV RTL</text><text x="2738" y="306" class="tb">GEN USER RTL</text><text x="2834" y="306" class="tb">GEN PRD RTL</text><text x="2916" y="306" class="tb">GEN DOC</text></g>
</g>
<g id="clock-design"><path d="M1594 374V344a8 8 0 0 1 8-8H2680V374Z" fill="#ED7D31"/><rect x="1859" y="374" width="6" height="710" fill="#ED7D31"/><text x="1729" y="354" class="hd">Design selection</text><text x="2070" y="354" class="hdl">Mai</text></g>
<rect x="2270" y="1117" width="330" height="7" fill="#ED7D31"/>
<g id="clock-component">
<path d="M2677 335H2942a8 8 0 0 1 8 8V374H2677Z" fill="#ED7D31"/>
<rect x="2677" y="374" width="10" height="312" fill="#ED7D31"/><rect x="2944" y="374" width="6" height="318" fill="#ED7D31"/>
<text x="2815" y="353" class="hd">Component selection</text>
<path d="M2683 692H2942a8 8 0 0 1 8 8V732H2683Z" fill="#ED7D31"/>
<rect x="2677" y="686" width="6.500" height="350" fill="#ED7D31"/><rect x="2944" y="732" width="6" height="300" fill="#ED7D31"/>
<text x="2815" y="711" class="hd">Component Configuration</text>
</g>
</g>

<g id="clock-config" filter="url(#bl)">
<text x="2724" y="752.500" class="cfs">name</text><text x="2724" y="766" font-size="12" fill="#777">DIV_ISP</text><path d="M2724 775.500H2918" stroke="#ddd"/>
<rect x="2728" y="801" width="10" height="10" fill="none" stroke="#999"/><text x="2746.500" y="806" class="cfg">External Clock Path</text>
<rect x="2728" y="839" width="10" height="10" fill="none" stroke="#999"/><text x="2746.500" y="844" class="cfg">Use Clock Enable</text>
<text x="2724" y="868" class="cfs">DIVRATIO Width</text><text x="2724" y="883" font-size="12" fill="#777">4</text><path d="M2724 890H2918" stroke="#ddd"/>
<text x="2724" y="905.500" class="cfs">DIVRATIO Reset Value (Integer)</text><text x="2724" y="920" font-size="12" fill="#777">0</text><path d="M2724 928.500H2918" stroke="#ddd"/>
<path d="M2700 948H2944" stroke="#f0f0f0"/>
<rect x="2728" y="977" width="10" height="10" fill="none" stroke="#999"/><text x="2746.500" y="982" class="cfg">Use PWRDOWN</text>
<rect x="2728" y="1013" width="10" height="10" fill="none" stroke="#999"/><text x="2746.500" y="1018" class="cfg">Use THROTTLE</text>
</g>

<g id="clock-ip">
<rect x="2590" y="1022" width="434" height="363" rx="2" fill="#fff" stroke="#E97132" stroke-width="6" filter="url(#sh)"/>
<g filter="url(#bl)">
<path class="wire" d="M2700 1076L2757 1064M2796 1064L2821 1084M2700 1121H2757M2796 1121L2821 1114M2700 1166L2757 1178M2796 1178L2821 1145M2700 1246L2757 1280M2796 1280L2821 1265M2700 1291L2757 1337M2796 1337L2821 1326M2700 1337L2757 1314M2796 1314L2821 1296"/>
<rect x="2822" y="1070" width="134" height="94" rx="4" fill="#F0F0F5" filter="url(#sh2)"/><rect x="2822" y="1248" width="134" height="97" rx="4" fill="#F0F0F5" filter="url(#sh2)"/>
<use xlink:href="#lb" x="2663" y="1064"/><use xlink:href="#lb" x="2663" y="1110"/><use xlink:href="#lb" x="2663" y="1155"/><use xlink:href="#lb" x="2663" y="1235"/><use xlink:href="#lb" x="2663" y="1280"/><use xlink:href="#lb" x="2663" y="1326"/>
<use xlink:href="#gt" x="2757" y="1064"/><use xlink:href="#gt" x="2757" y="1121"/><use xlink:href="#gt" x="2757" y="1178"/><use xlink:href="#gt" x="2757" y="1280"/><use xlink:href="#gt" x="2757" y="1314"/><use xlink:href="#gt" x="2757" y="1337"/>
<path class="pt" d="M2699 1076h2M2699 1121h2M2699 1166h2M2699 1246h2M2699 1291h2M2699 1337h2M2756 1064h2M2795 1064h2M2756 1121h2M2795 1121h2M2756 1178h2M2795 1178h2M2756 1280h2M2795 1280h2M2756 1314h2M2795 1314h2M2756 1337h2M2795 1337h2M2820 1084h2M2820 1114h2M2820 1145h2M2820 1265h2M2820 1296h2M2820 1326h2"/>
<text x="2679" y="1094" class="ipl">DIV_CPU_CPUIN</text><text x="2679" y="1140" class="ipl">DIV_CPU_CPUATCLK</text><text x="2679" y="1186" class="ipl">DIV_CPU_CPUPDBGCLK</text><text x="2679" y="1265" class="ipl">DIV_CPU_ACLK</text><text x="2679" y="1310" class="ipl">DIV_CPU_PCLK</text><text x="2679" y="1356" class="ipl">DIV_CPU_HCLK</text>
<text x="2775" y="1083" class="ipl">A53__CPUIN</text><text x="2775" y="1140" class="ipl">A53__CPUATCLK</text><text x="2775" y="1197" class="ipl">A53__CPUPDBGCLK</text><text x="2775" y="1299" class="ipl">CPU_BUS__ACLK</text><text x="2775" y="1333" class="ipl">CPU_BUS__PCLK</text><text x="2775" y="1356" class="ipl">CPU_BUS__HCLK</text>
<text x="2829" y="1084" class="ips">CPUIN</text><text x="2829" y="1114" class="ips">CPUATCLK</text><text x="2829" y="1145" class="ips">CPUPDBGCLK</text><text x="2889" y="1173" class="ipl">A53</text>
<text x="2829" y="1265" class="ips">ACLK</text><text x="2829" y="1296" class="ips">PCLK</text><text x="2829" y="1326" class="ips">HCLK</text><text x="2889" y="1354" class="ipl">CPU_BUS</text>
</g>
</g>

<g id="callouts-clock">
<path class="ld" d="M2541 363L2592 309M2700 501L2750 447M2212 737L2263 681M2674 823L2734 872"/>
<g fill="#000"><circle cx="2592" cy="309" r="6.500"/><circle cx="2750" cy="447" r="6.500"/><circle cx="2263" cy="681" r="6.500"/><circle cx="2734" cy="872" r="6.500"/></g>
<g id="co-c1"><rect x="2104" y="337" width="436" height="62" class="cp" filter="url(#sh2)"/><text x="2322" y="367" class="co">원하는 옵션의 산출물을 generate합니다</text></g>
<g id="co-c2"><rect x="2267" y="473" width="431" height="63" class="cp" filter="url(#sh2)"/><text x="2482" y="491" class="co">아이콘을 클릭하여 원하는 component를</text><text x="2482" y="518" class="co">Canvas에 생성합니다</text></g>
<g id="co-c3"><rect x="1902" y="706" width="308" height="64" class="cp" filter="url(#sh2)"/><text x="2056" y="726" class="co">Component 간의 관계를</text><text x="2056" y="752" class="co">drag&amp;drop으로 설정합니다</text></g>
<g id="co-c4"><rect x="2364" y="790" width="308" height="62" class="cp" filter="url(#sh2)"/><text x="2518" y="809" class="co">선택한 component를</text><text x="2518" y="836" class="co">configuration 합니다</text></g>
</g>

<g id="page-labels">
<g id="lbl-power-seq"><rect x="96" y="1079" width="581" height="91" rx="14" fill="#02539A" filter="url(#sh)"/><text x="386" y="1138" class="page">Power Sequence Page</text></g>
<g id="lbl-power-str"><rect x="437" y="1279" width="750" height="92" rx="14" fill="#02539A" filter="url(#sh)"/><text x="812" y="1338" class="page">Power Structure Design Page</text></g>
<g id="lbl-clock-dia"><rect x="1580" y="1077" width="695" height="92" rx="14" fill="#EB722F" filter="url(#sh)"/><text x="1927" y="1136" class="page">Clock Diagram Design Page</text></g>
<g id="lbl-clock-ip"><rect x="1859" y="1272" width="809" height="91" rx="14" fill="#EB722F" filter="url(#sh)"/><text x="2263" y="1331" class="page">Clock and IP Relationship Page</text></g>
</g>
</svg>
